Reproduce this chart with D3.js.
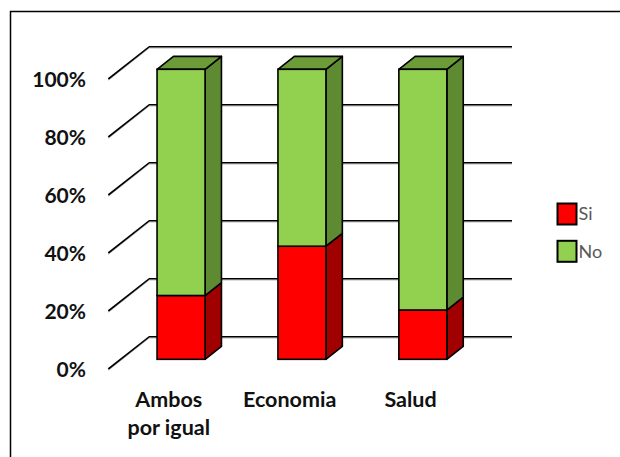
<!DOCTYPE html>
<html>
<head>
<meta charset="utf-8">
<script src="https://cdn.jsdelivr.net/npm/d3@7"></script>
<style>
  html, body { margin: 0; padding: 0; background: #fff; }
  svg { display: block; }
</style>
</head>
<body>
<svg id="chart" width="620" height="457"></svg>
<script>
// ---- data ----
const categories = ["Ambos por igual", "Economia", "Salud"];
const categoryLines = [["Ambos", "por igual"], ["Economia"], ["Salud"]];
const seriesNames = ["Si", "No"];
const siValues = [22, 39, 17];
const noValues = [78, 61, 83];
const yTicks = [0, 20, 40, 60, 80, 100];
const yTickLabels = ["0%", "20%", "40%", "60%", "80%", "100%"];

// ---- styles ----
const frontColors = { Si: "#FF0000", No: "#92D050" };
const sideColors  = { Si: "#A00000", No: "#5E8A32" };
const topColors   = { Si: "#C00000", No: "#6C9C38" };

const svg = d3.select("#chart");

// frame
svg.append("rect")
  .attr("x", 10.5).attr("y", 11.5)
  .attr("width", 700).attr("height", 500)
  .attr("fill", "none").attr("stroke", "#000").attr("stroke-width", 1.5);

// 3D geometry
const depthX = 41, depthY = -32.3;
const barFront = 0.3, barBack = 0.7;

const x = d3.scaleBand().domain(categories).range([108.3, 471]).paddingInner(0.603).paddingOuter(0.3015);
const y = d3.scaleLinear().domain([0, 100]).range([369, 79]);

const grid = svg.append("g");
// back wall gridlines + side-wall diagonals
yTicks.forEach(t => {
  const yf = y(t);
  const yb = yf + depthY;
  const path = `M${108.3},${yf} L${108.3 + depthX},${yb} L${471 + depthX},${yb}`;
  grid.append("path").attr("d", path)
    .attr("fill", "none").attr("stroke", "#BBBBBB").attr("stroke-width", 1)
    .attr("transform", "translate(0,1.3)");
  grid.append("path").attr("d", path)
    .attr("fill", "none").attr("stroke", "#000").attr("stroke-width", 1.6);
});

// y axis labels
svg.append("g").selectAll("text").data(yTicks).join("text")
  .attr("x", 86).attr("y", d => y(d))
  .attr("dy", "0.36em")
  .attr("text-anchor", "end")
  .attr("font-family", "Lato, 'Noto Sans', sans-serif")
  .attr("font-weight", "bold")
  .attr("font-size", 21)
  .attr("fill", "#111")
  .text((d, i) => yTickLabels[i]);

// stack
const rows = categories.map((c, i) => ({ cat: c, Si: siValues[i], No: noValues[i] }));
const stacked = d3.stack().keys(seriesNames)(rows);

const fdx = depthX * barFront, fdy = depthY * barFront;
const bdx = depthX * barBack, bdy = depthY * barBack;
const bw = x.bandwidth();

const bars = svg.append("g");
const nSeries = stacked.length;
stacked.forEach((layer, si) => {
  const key = layer.key;
  layer.forEach((d, i) => {
    const cat = categories[i];
    const x0 = x(cat) + fdx, x1 = x0 + bw;
    const yTop = y(d[1]) + fdy, yBot = y(d[0]) + fdy;
    const ddx = bdx - fdx, ddy = bdy - fdy;
    const g = bars.append("g");
    // side face
    g.append("path")
      .attr("d", `M${x1},${yBot} L${x1 + ddx},${yBot + ddy} L${x1 + ddx},${yTop + ddy} L${x1},${yTop} Z`)
      .attr("fill", sideColors[key]).attr("stroke", "#000").attr("stroke-width", 1.6).attr("stroke-linejoin", "round");
    // top face (only top segment)
    if (si === nSeries - 1) {
      g.append("path")
        .attr("d", `M${x0},${yTop} L${x0 + ddx},${yTop + ddy} L${x1 + ddx},${yTop + ddy} L${x1},${yTop} Z`)
        .attr("fill", topColors[key]).attr("stroke", "#000").attr("stroke-width", 1.6).attr("stroke-linejoin", "round");
    }
    // front face
    g.append("rect")
      .attr("x", x0).attr("y", yTop).attr("width", bw).attr("height", yBot - yTop)
      .attr("fill", frontColors[key]).attr("stroke", "#000").attr("stroke-width", 1.6);
  });
});

// category labels
const catG = svg.append("g");
categories.forEach((c, i) => {
  const cx = x(c) + bw / 2;
  const t = catG.append("text")
    .attr("x", cx).attr("y", 407)
    .attr("text-anchor", "middle")
    .attr("font-family", "Lato, 'Noto Sans', sans-serif")
    .attr("font-weight", "bold")
    .attr("font-size", 21.5)
    .attr("fill", "#111");
  categoryLines[i].forEach((line, li) => {
    t.append("tspan").attr("x", cx).attr("dy", li === 0 ? 0 : 27.5).text(line);
  });
});

// legend
const legend = svg.append("g");
const legendY = [203.5, 240.8];
seriesNames.forEach((s, i) => {
  legend.append("rect")
    .attr("x", 557.5).attr("y", legendY[i]).attr("width", 19).attr("height", 21)
    .attr("fill", frontColors[s]).attr("stroke", "#000").attr("stroke-width", 2);
  legend.append("text")
    .attr("x", 578.5).attr("y", legendY[i] + 10.5)
    .attr("dy", "0.36em")
    .attr("font-family", "Lato, 'Noto Sans', sans-serif")
    .attr("font-size", 18)
    .attr("fill", "#595959")
    .text(s);
});
</script>
</body>
</html>
